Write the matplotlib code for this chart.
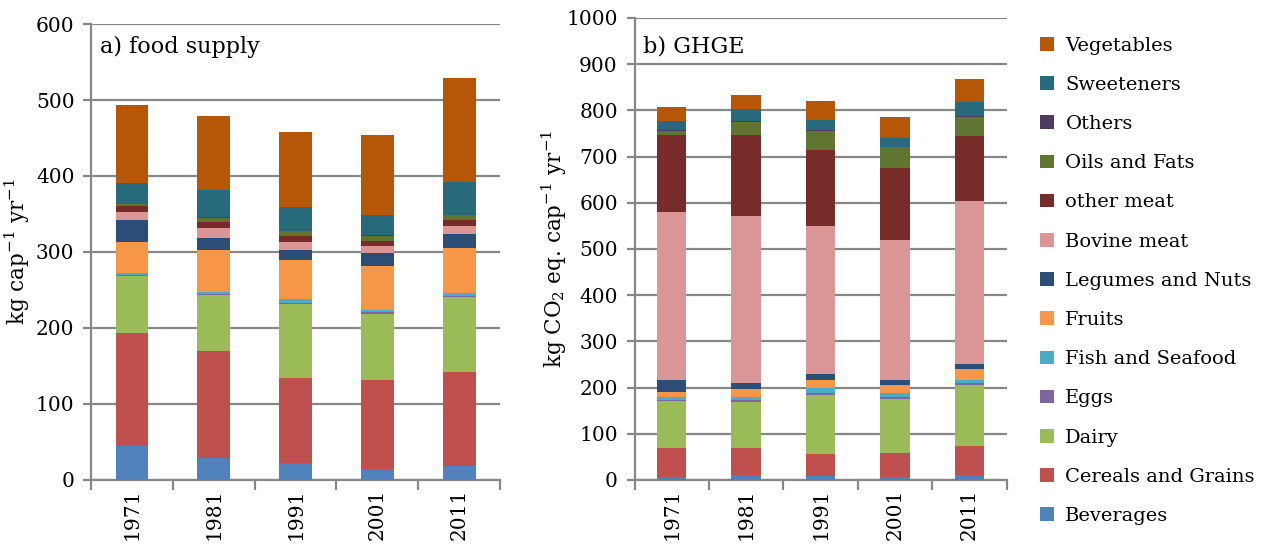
import matplotlib
matplotlib.use('Agg')
import matplotlib.pyplot as plt
from matplotlib.patches import Patch
import numpy as np

plt.rcParams['font.family'] = ['DejaVu Serif']
plt.rcParams['mathtext.default'] = 'regular'

YEARS = ['1971', '1981', '1991', '2001', '2011']
CATEGORIES = ['Beverages', 'Cereals and Grains', 'Dairy', 'Eggs', 'Fish and Seafood',
              'Fruits', 'Legumes and Nuts', 'Bovine meat', 'other meat', 'Oils and Fats',
              'Others', 'Sweeteners', 'Vegetables']
COLORS = ['#4F81BD', '#C0504D', '#9BBB59', '#8064A2', '#4BACC6', '#F79646', '#2C4D75',
          '#D99694', '#772C2A', '#5F7530', '#4D3B62', '#276A7C', '#B65708']

# a) food supply, kg cap-1 yr-1 (one row per category, columns = years)
FOOD = [
    [45, 28.5, 22, 14, 19],          # Beverages
    [149, 141, 112.5, 117, 122.5],   # Cereals and Grains
    [75, 74, 96.5, 88, 99.5],        # Dairy
    [1, 1, 1.5, 1.5, 1.3],           # Eggs
    [2.5, 3.5, 5.5, 3.5, 4],         # Fish and Seafood
    [40, 55, 51, 58, 59],            # Fruits
    [29, 16, 14, 17, 19],            # Legumes and Nuts
    [11, 12, 10, 9, 10.5],           # Bovine meat
    [8, 8, 7.5, 6.5, 7],             # other meat
    [2, 6, 6.5, 7, 6.5],             # Oils and Fats
    [0.5, 0.5, 0.5, 0.5, 0.5],       # Others
    [28, 36, 32, 27, 43.5],          # Sweeteners
    [103, 97, 99, 104.5, 137],       # Vegetables
]

# b) GHGE, kg CO2 eq. cap-1 yr-1
GHGE = [
    [6, 10, 9, 6, 11],
    [63, 59, 47, 52.5, 63.5],
    [101, 100.5, 128.5, 116, 131.5],
    [3, 4.5, 4, 4.5, 5],
    [6, 5.5, 11, 8.5, 6],
    [12, 16.5, 16.5, 18, 23],
    [26.5, 13, 13, 11, 12],
    [362.5, 361.5, 320.5, 303.5, 351],
    [166, 175.5, 164, 154.5, 142],
    [9, 29.5, 42.5, 45.5, 40],
    [2, 1.5, 2, 1.5, 3],
    [19.5, 26, 21.5, 19.5, 30],
    [31, 30, 40.5, 44, 50.5],
]

GRID = '#878787'


def stacked(ax, data, width, ymax, ylabel, label_x):
    x = np.arange(len(YEARS))
    bottom = np.zeros(len(YEARS))
    for vals, col in zip(data, COLORS):
        vals = np.array(vals, dtype=float)
        ax.bar(x, vals, width, bottom=bottom, color=col, edgecolor='none', zorder=3)
        bottom += vals
    ax.set_xlim(-0.5, len(YEARS) - 0.5)
    ax.set_ylim(0, ymax)
    ax.set_yticks(np.arange(0, ymax + 1, 100))
    ax.yaxis.grid(True, color=GRID, lw=1.6, zorder=0)
    ax.set_axisbelow(True)
    for s in ['top', 'right']:
        ax.spines[s].set_visible(False)
    for s in ['left', 'bottom']:
        ax.spines[s].set_color(GRID)
        ax.spines[s].set_linewidth(1.6)
    ax.set_xticks(np.arange(-0.5, len(YEARS)), [''] * (len(YEARS) + 1))
    ax.set_xticks(x, YEARS, minor=True, rotation=90)
    ax.tick_params(axis='x', which='major', length=7, color=GRID, width=1.6)
    ax.tick_params(axis='x', which='minor', length=0, pad=6, labelsize=14.5)
    ax.tick_params(axis='y', length=6, color=GRID, width=1.6, labelsize=14.5, pad=6)
    ax.set_ylabel(ylabel, fontsize=15.5)
    ax.yaxis.set_label_coords(label_x, 0.5)


fig = plt.figure(figsize=(12.68, 5.48), dpi=100)
ax1 = fig.add_axes([0.0718, 0.1241, 0.3226, 0.8321])
ax2 = fig.add_axes([0.5004, 0.1241, 0.2935, 0.8431])

stacked(ax1, FOOD, 0.4, 600, r'kg cap$^{-1}$ yr$^{-1}$', -0.145)
stacked(ax2, GHGE, 0.395, 1000, r'kg CO$_2$ eq. cap$^{-1}$ yr$^{-1}$', -0.175)

fig.text(100 / 1268, 1 - 47 / 548, 'a) food supply', fontsize=16, ha='left', va='center')
fig.text(643 / 1268, 1 - 47 / 548, 'b) GHGE', fontsize=16, ha='left', va='center')

handles = [Patch(facecolor=c, edgecolor='none') for c in COLORS][::-1]
fig.legend(handles, CATEGORIES[::-1], loc='upper left', bbox_to_anchor=(0.8065, 0.965),
           frameon=False, fontsize=14, handlelength=0.7, handleheight=0.7,
           handletextpad=0.6, labelspacing=1.09)

fig.savefig('out.png', dpi=100)
